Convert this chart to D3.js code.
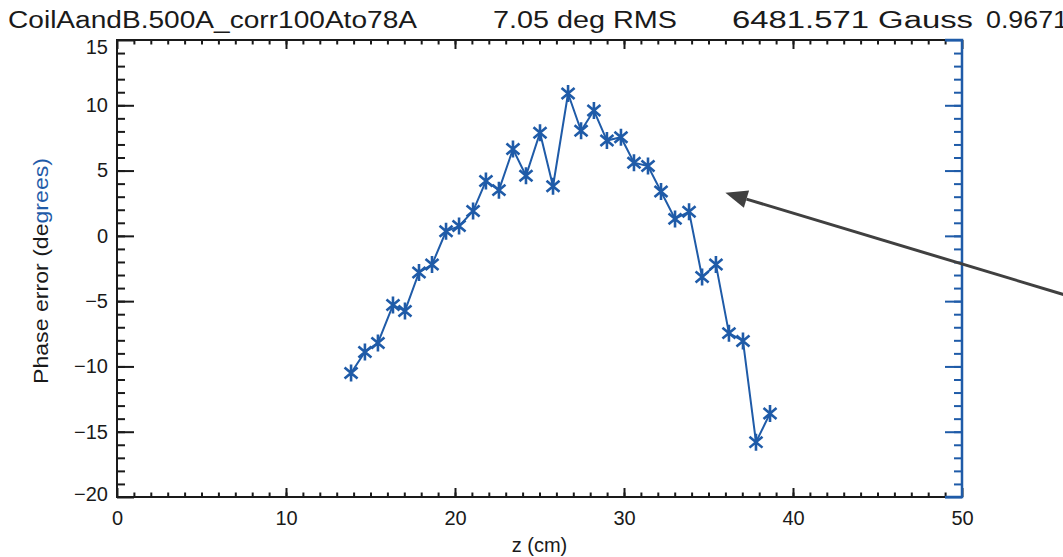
<!DOCTYPE html>
<html>
<head>
<meta charset="utf-8">
<script src="https://cdn.jsdelivr.net/npm/d3@7"></script>
<style>
  body { margin: 0; background: #fff; }
  text { font-family: "Liberation Sans", Arial, sans-serif; }
</style>
</head>
<body>
<div id="container"></div>
<script>
// values
const zValues = [13.85, 14.67, 15.44, 16.33, 17.04, 17.87, 18.64, 19.47, 20.24, 21.07,
  21.83, 22.6, 23.43, 24.2, 25.03, 25.8, 26.69, 27.46, 28.22, 28.99,
  29.82, 30.59, 31.42, 32.19, 33.02, 33.85, 34.62, 35.44, 36.21, 37.04,
  37.81, 38.64];
const phaseValues = [-10.5, -8.9, -8.2, -5.3, -5.75, -2.8, -2.2, 0.35, 0.75, 1.9,
  4.2, 3.5, 6.65, 4.6, 7.9, 3.8, 10.9, 8.05, 9.6, 7.3,
  7.55, 5.6, 5.35, 3.4, 1.3, 1.85, -3.15, -2.2, -7.45, -8.05,
  -15.8, -13.6];
const xMajorTicks = [0, 10, 20, 30, 40, 50];
const yMajorTicks = [-20, -15, -10, -5, 0, 5, 10, 15];
const titleParts = ["CoilAandB.500A_corr100Ato78A", "7.05 deg RMS", "6481.571 Gauss", "0.9671"];
// arrow annotation, in data units (tail is off the plot)
const arrowFrom = [56.8, -4.8];
const arrowTo = [36.0, 3.3];

const data = zValues.map((z, i) => ({z: z, p: phaseValues[i]}));

const W = 1063, H = 557;
const plotL = 117, plotR = 962, plotT = 40, plotB = 497;
const blue = "#1f5ba8";
const ink = "#1a1a1a";

const svg = d3.select("#container")
  .append("svg")
  .attr("width", W)
  .attr("height", H);

const x = d3.scaleLinear().domain([0, 50]).range([plotL, plotR]);
const y = d3.scaleLinear().domain([-20, 15]).range([plotB, plotT]);

// title, four pieces spaced like the original
const titleX = [8, 493, 732, 986];
const titleW = [409, 184, 241, 82];
titleParts.forEach((t, i) => {
  svg.append("text")
    .attr("x", titleX[i])
    .attr("y", 28)
    .attr("font-size", 23)
    .attr("textLength", titleW[i])
    .attr("lengthAdjust", "spacingAndGlyphs")
    .attr("fill", ink)
    .text(t);
});

function styleAxis(g, color) {
  g.select(".domain").remove();
  g.selectAll(".tick line").attr("stroke", color).attr("stroke-width", 2);
  g.selectAll(".tick text").attr("fill", ink).attr("font-size", 20);
}

// bottom axis
let bx = svg.append("g").attr("transform", `translate(0,${plotB})`)
  .call(d3.axisBottom(x).tickValues(xMajorTicks).tickSize(-9).tickPadding(14).tickFormat(d3.format("d")));
styleAxis(bx, ink);
let bxm = svg.append("g").attr("transform", `translate(0,${plotB})`)
  .call(d3.axisBottom(x).tickValues(d3.range(1, 50)).tickSize(-4.5).tickFormat(""));
styleAxis(bxm, ink);

// top axis
let tx = svg.append("g").attr("transform", `translate(0,${plotT})`)
  .call(d3.axisTop(x).tickValues(xMajorTicks).tickSize(-9).tickFormat(""));
styleAxis(tx, ink);
let txm = svg.append("g").attr("transform", `translate(0,${plotT})`)
  .call(d3.axisTop(x).tickValues(d3.range(1, 50)).tickSize(-4.5).tickFormat(""));
styleAxis(txm, ink);

// left axis
let ly = svg.append("g").attr("transform", `translate(${plotL},0)`)
  .call(d3.axisLeft(y).tickValues(yMajorTicks).tickSize(-17).tickPadding(9));
styleAxis(ly, ink);
// end labels sit a little inside the frame, as in the original
ly.selectAll(".tick text")
  .attr("y", d => d === 15 ? 7 : d === -20 ? -3 : 0);
let lym = svg.append("g").attr("transform", `translate(${plotL},0)`)
  .call(d3.axisLeft(y).tickValues(d3.range(-19, 15)).tickSize(-8).tickFormat(""));
styleAxis(lym, ink);

// right axis (blue)
let ry = svg.append("g").attr("transform", `translate(${plotR},0)`)
  .call(d3.axisRight(y).tickValues(yMajorTicks).tickSize(-17).tickFormat(""));
styleAxis(ry, blue);
let rym = svg.append("g").attr("transform", `translate(${plotR},0)`)
  .call(d3.axisRight(y).tickValues(d3.range(-19, 15)).tickSize(-8).tickFormat(""));
styleAxis(rym, blue);

// frame
svg.append("path")
  .attr("d", `M${plotR - 17},${plotT}H${plotL}V${plotB}H${plotR - 17}`)
  .attr("fill", "none").attr("stroke", ink).attr("stroke-width", 2);
svg.append("path")
  .attr("d", `M${plotR - 17},${plotT}H${plotR}V${plotB}H${plotR - 17}`)
  .attr("fill", "none").attr("stroke", blue).attr("stroke-width", 2.5);

// axis titles
svg.append("text")
  .attr("x", (plotL + plotR) / 2)
  .attr("y", 552)
  .attr("text-anchor", "middle")
  .attr("font-size", 20)
  .attr("fill", ink)
  .text("z (cm)");

let yt = svg.append("text")
  .attr("transform", `translate(48,271) rotate(-90)`)
  .attr("text-anchor", "middle")
  .attr("font-size", 21)
  .attr("textLength", 226)
  .attr("lengthAdjust", "spacingAndGlyphs")
  .attr("fill", ink);
yt.append("tspan").text("Phase error (de");
yt.append("tspan").attr("fill", blue).text("grees)");

// data line
const line = d3.line().x(d => x(d.z)).y(d => y(d.p));
svg.append("path")
  .datum(data)
  .attr("d", line)
  .attr("fill", "none")
  .attr("stroke", blue)
  .attr("stroke-width", 2);

// asterisk markers
function asterisk(r) {
  let p = d3.path();
  [90, 40, -40].forEach(a => {
    let rad = a * Math.PI / 180;
    let dx = Math.cos(rad) * r, dy = Math.sin(rad) * r;
    p.moveTo(-dx, -dy);
    p.lineTo(dx, dy);
  });
  return p.toString();
}
svg.selectAll(".mark")
  .data(data)
  .enter()
  .append("path")
  .attr("class", "mark")
  .attr("transform", d => `translate(${x(d.z)},${y(d.p)})`)
  .attr("d", asterisk(8.5))
  .attr("fill", "none")
  .attr("stroke", blue)
  .attr("stroke-width", 2.6);

// annotation arrow
const ax0 = x(arrowFrom[0]), ay0 = y(arrowFrom[1]);
const ax1 = x(arrowTo[0]), ay1 = y(arrowTo[1]);
const ang = Math.atan2(ay1 - ay0, ax1 - ax0);
const headLen = 22, headW = 9;
const bxp = ax1 - headLen * Math.cos(ang), byp = ay1 - headLen * Math.sin(ang);
svg.append("line")
  .attr("x1", ax0).attr("y1", ay0)
  .attr("x2", bxp).attr("y2", byp)
  .attr("stroke", "#404040")
  .attr("stroke-width", 3);
svg.append("path")
  .attr("d", `M${ax1},${ay1}L${bxp + headW * Math.sin(ang)},${byp - headW * Math.cos(ang)}L${bxp - headW * Math.sin(ang)},${byp + headW * Math.cos(ang)}Z`)
  .attr("fill", "#404040");
</script>
</body>
</html>
